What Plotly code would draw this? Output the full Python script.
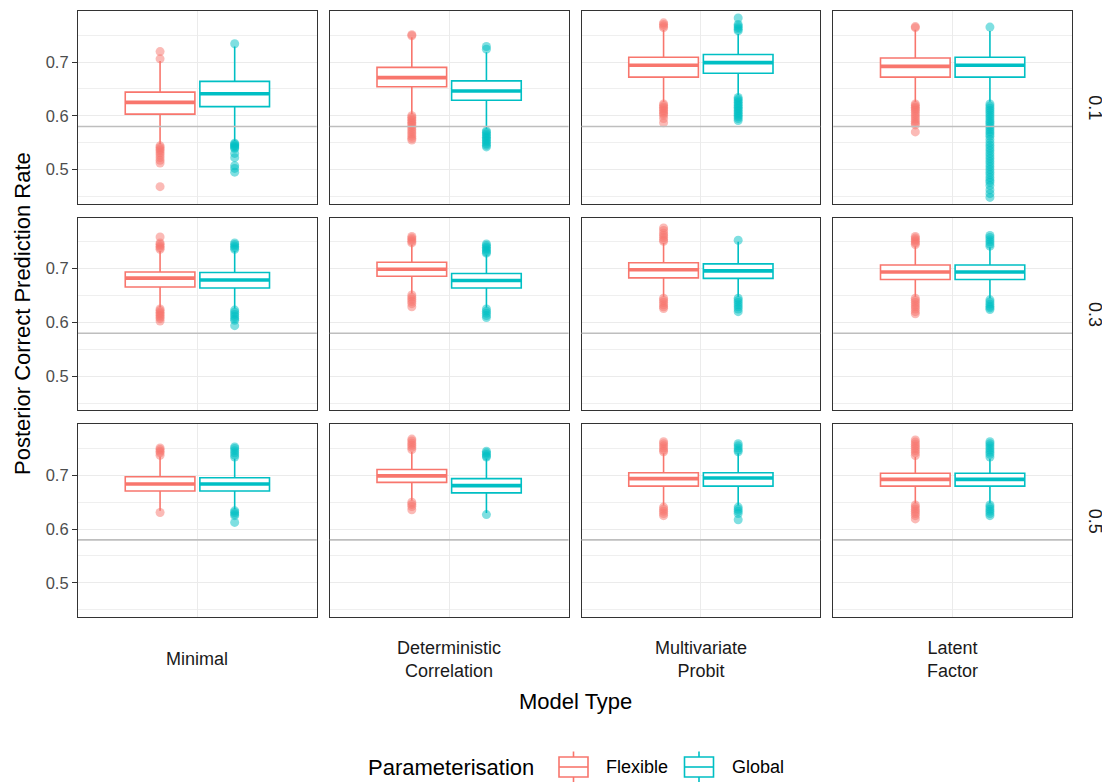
import plotly.graph_objects as go
from plotly.subplots import make_subplots

# ---------------- data ----------------
MODELS = ["Minimal", "Deterministic<br>Correlation", "Multivariate<br>Probit", "Latent<br>Factor"]
RHO = ["0.1", "0.3", "0.5"]
GROUPS = ["Flexible", "Global"]
COLORS = {"Flexible": "#F8766D", "Global": "#00BFC4"}
REF_LINE = 0.58
Y_TICKS = [0.5, 0.6, 0.7]
Y_MINOR = [0.45, 0.55, 0.65, 0.75]

# rows = RHO, cols = MODELS
FLEX_Q1 = [[0.603, 0.654, 0.672, 0.672],
           [0.666, 0.686, 0.683, 0.680],
           [0.671, 0.687, 0.680, 0.680]]
FLEX_MED = [[0.625, 0.671, 0.694, 0.692],
            [0.6825, 0.699, 0.698, 0.694],
            [0.684, 0.699, 0.694, 0.6925]]
FLEX_Q3 = [[0.644, 0.690, 0.709, 0.7075],
           [0.694, 0.712, 0.711, 0.707],
           [0.6975, 0.711, 0.705, 0.704]]
FLEX_LO = [[0.547, 0.603, 0.626, 0.626],
           [0.628, 0.654, 0.648, 0.648],
           [0.634, 0.653, 0.644, 0.648]]
FLEX_HI = [[0.702, 0.746, 0.760, 0.760],
           [0.733, 0.745, 0.748, 0.742],
           [0.735, 0.744, 0.741, 0.734]]
FLEX_OUT = [
    [[0.7195, 0.706, 0.544, 0.541, 0.538, 0.535, 0.531, 0.527, 0.522, 0.517, 0.512, 0.468],
     [0.751, 0.749, 0.600, 0.597, 0.594, 0.591, 0.588, 0.585, 0.582, 0.578, 0.574, 0.570, 0.566, 0.562, 0.558, 0.555],
     [0.773, 0.770, 0.767, 0.764, 0.622, 0.619, 0.616, 0.613, 0.610, 0.607, 0.604, 0.601, 0.595, 0.587],
     [0.766, 0.764, 0.622, 0.619, 0.616, 0.613, 0.610, 0.606, 0.602, 0.598, 0.594, 0.590, 0.586, 0.583, 0.570]],
    [[0.759, 0.748, 0.745, 0.742, 0.739, 0.736, 0.625, 0.622, 0.619, 0.616, 0.613, 0.610, 0.607, 0.6025],
     [0.760, 0.757, 0.754, 0.751, 0.748, 0.651, 0.647, 0.643, 0.639, 0.635, 0.629],
     [0.776, 0.771, 0.766, 0.762, 0.758, 0.754, 0.751, 0.645, 0.641, 0.637, 0.633, 0.629, 0.626],
     [0.760, 0.757, 0.754, 0.751, 0.748, 0.745, 0.645, 0.641, 0.637, 0.633, 0.629, 0.625, 0.620, 0.616]],
    [[0.751, 0.748, 0.745, 0.742, 0.7375, 0.631],
     [0.7675, 0.764, 0.760, 0.756, 0.752, 0.748, 0.650, 0.646, 0.642, 0.636],
     [0.7625, 0.759, 0.755, 0.751, 0.747, 0.744, 0.641, 0.637, 0.633, 0.629, 0.625],
     [0.766, 0.762, 0.758, 0.754, 0.750, 0.746, 0.742, 0.737, 0.645, 0.641, 0.637, 0.633, 0.629, 0.625, 0.619]],
]

GLOB_Q1 = [[0.617, 0.629, 0.679, 0.672],
           [0.664, 0.664, 0.682, 0.680],
           [0.671, 0.6675, 0.680, 0.680]]
GLOB_MED = [[0.641, 0.646, 0.699, 0.694],
            [0.679, 0.678, 0.696, 0.694],
            [0.684, 0.681, 0.695, 0.6925]]
GLOB_Q3 = [[0.664, 0.665, 0.714, 0.709],
           [0.693, 0.691, 0.709, 0.707],
           [0.6955, 0.694, 0.705, 0.704]]
GLOB_LO = [[0.553, 0.576, 0.638, 0.626],
           [0.626, 0.628, 0.648, 0.645],
           [0.637, 0.630, 0.644, 0.648]]
GLOB_HI = [[0.729, 0.718, 0.752, 0.758],
           [0.733, 0.726, 0.750, 0.740],
           [0.731, 0.731, 0.741, 0.731]]
GLOB_OUT = [
    [[0.734, 0.549, 0.547, 0.545, 0.543, 0.541, 0.539, 0.530, 0.522, 0.507, 0.502, 0.495],
     [0.729, 0.724, 0.572, 0.569, 0.566, 0.563, 0.560, 0.557, 0.554, 0.551, 0.548, 0.545, 0.542],
     [0.782, 0.770, 0.767, 0.764, 0.761, 0.758, 0.634, 0.631, 0.628, 0.625, 0.622, 0.619, 0.616,
      0.613, 0.610, 0.607, 0.604, 0.601, 0.598, 0.595, 0.591],
     [0.765, 0.622, 0.618, 0.614, 0.610, 0.606, 0.602, 0.598, 0.594, 0.590, 0.586, 0.582, 0.578,
      0.574, 0.570, 0.566, 0.562, 0.556, 0.550, 0.545, 0.540, 0.535, 0.530, 0.525, 0.520, 0.515,
      0.510, 0.505, 0.500, 0.495, 0.490, 0.485, 0.480, 0.476, 0.470, 0.462, 0.455, 0.448]],
    [[0.748, 0.745, 0.742, 0.739, 0.736, 0.623, 0.619, 0.615, 0.611, 0.607, 0.604, 0.594],
     [0.746, 0.743, 0.740, 0.737, 0.734, 0.731, 0.729, 0.625, 0.621, 0.617, 0.613, 0.609],
     [0.753, 0.645, 0.641, 0.637, 0.633, 0.629, 0.625, 0.620],
     [0.762, 0.758, 0.754, 0.750, 0.746, 0.742, 0.642, 0.638, 0.634, 0.630, 0.627, 0.624]],
    [[0.753, 0.750, 0.746, 0.742, 0.738, 0.734, 0.634, 0.631, 0.628, 0.625, 0.6125],
     [0.745, 0.742, 0.739, 0.736, 0.734, 0.627],
     [0.759, 0.755, 0.751, 0.747, 0.744, 0.641, 0.637, 0.633, 0.629, 0.6175],
     [0.7625, 0.759, 0.755, 0.751, 0.747, 0.743, 0.739, 0.734, 0.645, 0.641, 0.637, 0.633, 0.629, 0.625]],
]

STATS = {
    "Flexible": (FLEX_Q1, FLEX_MED, FLEX_Q3, FLEX_LO, FLEX_HI, FLEX_OUT),
    "Global": (GLOB_Q1, GLOB_MED, GLOB_Q3, GLOB_LO, GLOB_HI, GLOB_OUT),
}

# ---------------- layout constants ----------------
POS = {"Flexible": 0.8125, "Global": 1.1875}
BOX_W = 0.35
FONT = "Liberation Sans, Arial, Helvetica, sans-serif"

# plot area in page pixels (the page has an 8px body margin)
OFF = 8
FIG_W, FIG_H = 1110 - OFF, 782 - OFF
PA_L, PA_R, PA_T, PA_B = 78, 1072, 11, 617


def px(sx):
    return (sx - PA_L) / (PA_R - PA_L)


def py(sy):
    return (PA_B - sy) / (PA_B - PA_T)


fig = make_subplots(rows=3, cols=4, horizontal_spacing=13 / 994, vertical_spacing=14 / 606)

for r in range(3):
    for c in range(4):
        for g in GROUPS:
            q1, med, q3, lo, hi, out = STATS[g]
            col = COLORS[g]
            x0 = POS[g]
            fig.add_trace(go.Scatter(
                x=[x0] * len(out[r][c]), y=out[r][c], mode="markers",
                marker=dict(color=col, size=9, opacity=0.5, line=dict(width=0)),
                showlegend=False, hoverinfo="skip"), row=r + 1, col=c + 1)
            fig.add_trace(go.Box(
                x=[x0], q1=[q1[r][c]], median=[med[r][c]], q3=[q3[r][c]],
                lowerfence=[lo[r][c]], upperfence=[hi[r][c]],
                width=BOX_W, whiskerwidth=0, boxpoints=False,
                fillcolor="white", line=dict(color=col, width=1.6),
                name=g, showlegend=False, hoverinfo="skip"), row=r + 1, col=c + 1)
            fig.add_trace(go.Scatter(
                x=[x0 - BOX_W / 2, x0 + BOX_W / 2], y=[med[r][c], med[r][c]],
                mode="lines", line=dict(color=col, width=3.6),
                showlegend=False, hoverinfo="skip"), row=r + 1, col=c + 1)
        fig.add_hline(y=REF_LINE, row=r + 1, col=c + 1,
                      line=dict(color="#BEBEBE", width=1.6), layer="above")

fig.update_xaxes(range=[0.4, 1.6], tickvals=[1], showticklabels=False, ticks="",
                 showgrid=True, gridcolor="#EBEBEB", gridwidth=1.3, zeroline=False,
                 showline=True, mirror=True, linecolor="#333333", linewidth=1.2)
fig.update_yaxes(range=[0.4364, 0.795], tickvals=Y_TICKS, ticktext=[f"{v:.1f}" for v in Y_TICKS],
                 showgrid=True, gridcolor="#EBEBEB", gridwidth=1.3, zeroline=False,
                 minor=dict(tickvals=Y_MINOR, showgrid=True, gridcolor="#EFEFEF", gridwidth=0.8),
                 showline=True, mirror=True, linecolor="#333333", linewidth=1.2,
                 showticklabels=False, ticks="")
for r in range(3):
    fig.update_yaxes(showticklabels=True, ticks="outside", ticklen=5, tickwidth=1.1,
                     tickcolor="#333333", tickfont=dict(size=16.5, color="#4D4D4D", family=FONT),
                     row=r + 1, col=1)

annotations = []
# column (bottom strip) labels
for c, m in enumerate(MODELS):
    dom = fig.layout[f"xaxis{'' if c == 0 else c + 1}"].domain
    annotations.append(dict(text=m, x=(dom[0] + dom[1]) / 2, y=py(659), xref="paper", yref="paper",
                            xanchor="center", yanchor="middle", showarrow=False,
                            font=dict(size=18, color="#1A1A1A", family=FONT)))
# row (right strip) labels
for r, rho in enumerate(RHO):
    idx = r * 4 + 1
    dom = fig.layout[f"yaxis{'' if idx == 1 else idx}"].domain
    annotations.append(dict(text=rho, x=px(1095), y=(dom[0] + dom[1]) / 2, xref="paper", yref="paper",
                            xanchor="center", yanchor="middle", textangle=90, showarrow=False,
                            font=dict(size=18, color="#1A1A1A", family=FONT)))
annotations.append(dict(text="Model Type", x=0.5, y=py(701), xref="paper", yref="paper",
                        xanchor="center", yanchor="middle", showarrow=False,
                        font=dict(size=22, color="black", family=FONT)))
annotations.append(dict(text="Posterior Correct Prediction Rate", x=px(22), y=0.5,
                        xref="paper", yref="paper", xanchor="center", yanchor="middle",
                        textangle=-90, showarrow=False,
                        font=dict(size=22, color="black", family=FONT)))

# custom legend drawn like ggplot's boxplot key
LEG_Y = 767
annotations.append(dict(text="Parameterisation", x=px(366), y=py(LEG_Y), xref="paper", yref="paper",
                        xanchor="left", yanchor="middle", showarrow=False,
                        font=dict(size=22, color="black", family=FONT)))
shapes = []
KEY_X = {"Flexible": 559, "Global": 684.5}
for g in GROUPS:
    kx = KEY_X[g]
    col = COLORS[g]
    cx = kx + 14.5
    shapes.append(dict(type="rect", xref="paper", yref="paper", x0=px(kx), x1=px(kx + 29),
                       y0=py(757), y1=py(777), line=dict(color=col, width=1.6), fillcolor="white"))
    shapes.append(dict(type="line", xref="paper", yref="paper", x0=px(kx), x1=px(kx + 29),
                       y0=py(767), y1=py(767), line=dict(color=col, width=1.6)))
    shapes.append(dict(type="line", xref="paper", yref="paper", x0=px(cx), x1=px(cx),
                       y0=py(751.5), y1=py(757), line=dict(color=col, width=1.6)))
    shapes.append(dict(type="line", xref="paper", yref="paper", x0=px(cx), x1=px(cx),
                       y0=py(777), y1=py(782.5), line=dict(color=col, width=1.6)))
    annotations.append(dict(text=g, x=px(kx + 45), y=py(LEG_Y), xref="paper", yref="paper",
                            xanchor="left", yanchor="middle", showarrow=False,
                            font=dict(size=18, color="black", family=FONT)))

fig.update_layout(
    width=FIG_W, height=FIG_H,
    margin=dict(l=PA_L - OFF, r=FIG_W - (PA_R - OFF), t=PA_T - OFF, b=FIG_H - (PA_B - OFF)),
    paper_bgcolor="white", plot_bgcolor="white",
    font=dict(family=FONT),
    showlegend=False,
    annotations=list(fig.layout.annotations) + annotations,
    shapes=list(fig.layout.shapes) + shapes,
)

fig.write_html("out.html")
